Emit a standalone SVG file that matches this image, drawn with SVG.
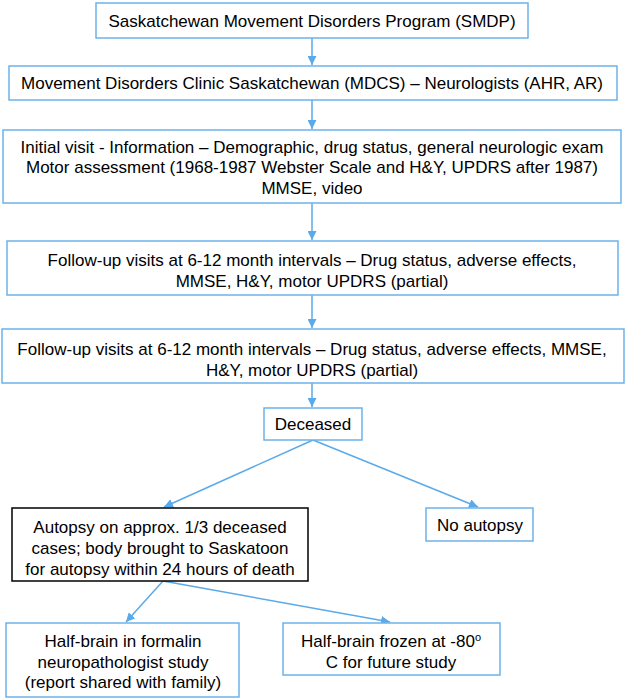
<svg xmlns="http://www.w3.org/2000/svg" width="626" height="699" viewBox="0 0 626 699">
<style>
.b{fill:#fff;stroke:#6cb2ea;stroke-width:1.5}
.k{fill:#fff;stroke:#000;stroke-width:1.5}
.t{font-family:"Liberation Sans",Arial,sans-serif;font-size:17px;fill:#000;text-anchor:middle}
.c{stroke:#5aaaea;stroke-width:1.5;fill:none;marker-end:url(#ah)}
</style>
<defs>
<marker id="ah" viewBox="0 0 10 10" refX="10" refY="5" markerWidth="6" markerHeight="6" orient="auto" markerUnits="strokeWidth">
<path d="M0,0 L10,5 L0,10 z" fill="#5aaaea"/>
</marker>
</defs>
<rect width="626" height="699" fill="#fff"/>
<g id="connectors">
<line class="c" x1="312" y1="38" x2="312" y2="65"/>
<line class="c" x1="312" y1="100" x2="312" y2="129"/>
<line class="c" x1="312" y1="203" x2="312" y2="240"/>
<line class="c" x1="312" y1="295" x2="312" y2="328"/>
<line class="c" x1="312" y1="383" x2="312" y2="407"/>
<line class="c" x1="313" y1="440" x2="164" y2="507"/>
<line class="c" x1="313" y1="440" x2="478" y2="507"/>
<line class="c" x1="163" y1="581" x2="126" y2="622"/>
<line class="c" x1="163" y1="581" x2="390" y2="622"/>
</g>
<g id="n1"><rect class="b" x="96" y="3" width="432" height="35"/><text class="t" x="312" y="27">Saskatchewan Movement Disorders Program (SMDP)</text></g>
<g id="n2"><rect class="b" x="9" y="66" width="608" height="34"/><text class="t" x="312" y="89">Movement Disorders Clinic Saskatchewan (MDCS) – Neurologists (AHR, AR)</text></g>
<g id="n3"><rect class="b" x="3" y="130" width="618" height="73"/><text class="t" x="312" y="153">Initial visit - Information – Demographic, drug status, general neurologic exam</text><text class="t" x="312" y="173">Motor assessment (1968-1987 Webster Scale and H&amp;Y, UPDRS after 1987)</text><text class="t" x="312" y="194">MMSE, video</text></g>
<g id="n4"><rect class="b" x="7" y="241" width="611" height="54"/><text class="t" x="312" y="266">Follow-up visits at 6-12 month intervals – Drug status, adverse effects,</text><text class="t" x="312" y="287">MMSE, H&amp;Y, motor UPDRS (partial)</text></g>
<g id="n5"><rect class="b" x="2" y="329" width="622" height="54"/><text class="t" x="312" y="355">Follow-up visits at 6-12 month intervals – Drug status, adverse effects, MMSE,</text><text class="t" x="312" y="376">H&amp;Y, motor UPDRS (partial)</text></g>
<g id="n6"><rect class="b" x="264" y="408" width="98" height="32"/><text class="t" x="313" y="430">Deceased</text></g>
<g id="n7"><rect class="k" x="12" y="508" width="296" height="73"/><text class="t" x="160" y="533">Autopsy on approx. 1/3 deceased</text><text class="t" x="160" y="554">cases; body brought to Saskatoon</text><text class="t" x="160" y="575">for autopsy within 24 hours of death</text></g>
<g id="n8"><rect class="b" x="426" y="508" width="107" height="33"/><text class="t" x="480" y="531">No autopsy</text></g>
<g id="n9"><rect class="b" x="6" y="623" width="233" height="74"/><text class="t" x="123" y="647">Half-brain in formalin</text><text class="t" x="123" y="668">neuropathologist study</text><text class="t" x="123" y="688">(report shared with family)</text></g>
<g id="n10"><rect class="b" x="283" y="623" width="217" height="52"/><text class="t" x="391" y="647">Half-brain frozen at -80<tspan font-size="11" dy="-6">o</tspan></text><text class="t" x="391" y="668">C for future study</text></g>
</svg>
